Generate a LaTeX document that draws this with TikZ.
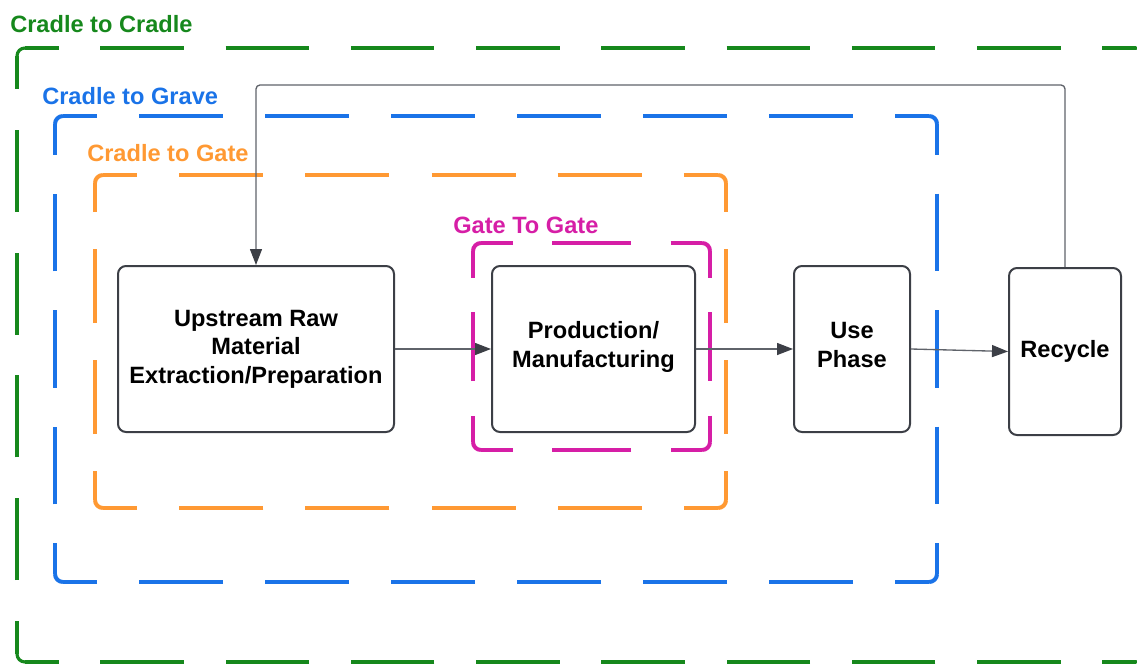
\documentclass[tikz,border=0pt]{standalone}
\usepackage{fontspec}
\setmainfont{Liberation Sans}
\usetikzlibrary{arrows.meta}

\definecolor{cgreen}{RGB}{22,136,28}
\definecolor{cblue}{RGB}{26,115,232}
\definecolor{corange}{RGB}{255,153,51}
\definecolor{cmagenta}{RGB}{214,30,166}
\definecolor{boxline}{RGB}{60,63,70}
\definecolor{wire}{RGB}{95,99,106}

% One straight side of a dashed frame, coordinates in px.
% The dash period is fitted to the side so that a dash is centred on each corner.
\newcommand\dashside[5]{%
  \pgfmathsetmacro\dlen{veclen((#4)-(#2),(#5)-(#3))}%
  \pgfmathsetmacro\dn{max(1,round(\dlen/123))}%
  \pgfmathsetmacro\dper{\dlen/\dn}%
  \pgfmathsetmacro\don{\dper*2/3*0.75}%
  \pgfmathsetmacro\doff{\dper/3*0.75}%
  \pgfmathsetmacro\dph{(\dper/3+8)*0.75}%
  \draw[#1,dash pattern=on \don pt off \doff pt,dash phase=\dph pt,
        shorten <=6pt,shorten >=6pt] (#2,#3) -- (#4,#5);%
}
% A dashed rounded frame: style, left, top, right, bottom (px)
\newcommand\dashframe[5]{%
  \dashside{#1}{#2}{#3}{#4}{#3}%
  \dashside{#1}{#4}{#3}{#4}{#5}%
  \dashside{#1}{#4}{#5}{#2}{#5}%
  \dashside{#1}{#2}{#5}{#2}{#3}%
  \draw[#1,rounded corners=6pt] (#2,#3+8) -- (#2,#3) -- (#2+8,#3);%
  \draw[#1,rounded corners=6pt] (#4-8,#3) -- (#4,#3) -- (#4,#3+8);%
  \draw[#1,rounded corners=6pt] (#4,#5-8) -- (#4,#5) -- (#4-8,#5);%
  \draw[#1,rounded corners=6pt] (#2+8,#5) -- (#2,#5) -- (#2,#5-8);%
}

\tikzset{
  stage/.style={draw=boxline, line width=1.5pt, fill=white, rounded corners=6pt,
    align=center, text=black, inner sep=2pt,
    font=\fontsize{17.7}{21.4}\selectfont\bfseries},
  scopelabel/.style={anchor=base west, inner sep=0pt,
    font=\fontsize{17.7}{21.4}\selectfont\bfseries},
  flow/.style={draw=wire, line width=1pt,
    -{Triangle[length=12pt,width=9pt,fill=boxline,color=boxline]}},
}

\begin{document}
\begin{tikzpicture}[x=0.75pt,y=-0.75pt]
\useasboundingbox (0,0) rectangle (1137,664);
\clip (0,0) rectangle (1137,664);

% nested scope frames
\dashframe{draw=cgreen,line width=2.4pt}{17}{48}{1144}{662}
\dashframe{draw=cblue,line width=3pt}{55}{116}{937}{582}
\dashframe{draw=corange,line width=3pt}{95}{175}{726}{508}
\dashframe{draw=cmagenta,line width=3pt}{473}{243}{710}{450}

% scope titles
\node[scopelabel, text=cgreen] (tcc) at (10,32) {Cradle to Cradle};
\node[scopelabel, text=cblue] (tcgr) at (42,104) {Cradle to Grave};
\node[scopelabel, text=corange] (tcga) at (87,161) {Cradle to Gate};
\node[scopelabel, text=cmagenta] (tgg) at (453,233) {Gate To Gate};

% life-cycle stages
\node[stage, minimum width=207pt, minimum height=124.5pt] (up) at (256,349)
  {Upstream Raw\\Material\\Extraction/Preparation};
\node[stage, minimum width=152.25pt, minimum height=124.5pt, text depth=6.8pt] (prod) at (593.5,349)
  {Production/\\Manufacturing};
\node[stage, minimum width=87pt, minimum height=124.5pt, text depth=6pt] (use) at (852,349)
  {Use\\Phase};
\node[stage, minimum width=84pt, minimum height=125.25pt] (rec) at (1065,351.5)
  {Recycle};

% flows
\draw[flow] (up.east) -- (prod.west);
\draw[flow] (prod.east) -- (use.west);
\draw[flow] (use.east) -- (rec.west);
\coordinate (looptop) at (0,85);
\draw[flow, rounded corners=3pt] (rec.north) -- (rec.north |- looptop)
  -- (up.north |- looptop) -- (up.north);
\end{tikzpicture}
\end{document}
